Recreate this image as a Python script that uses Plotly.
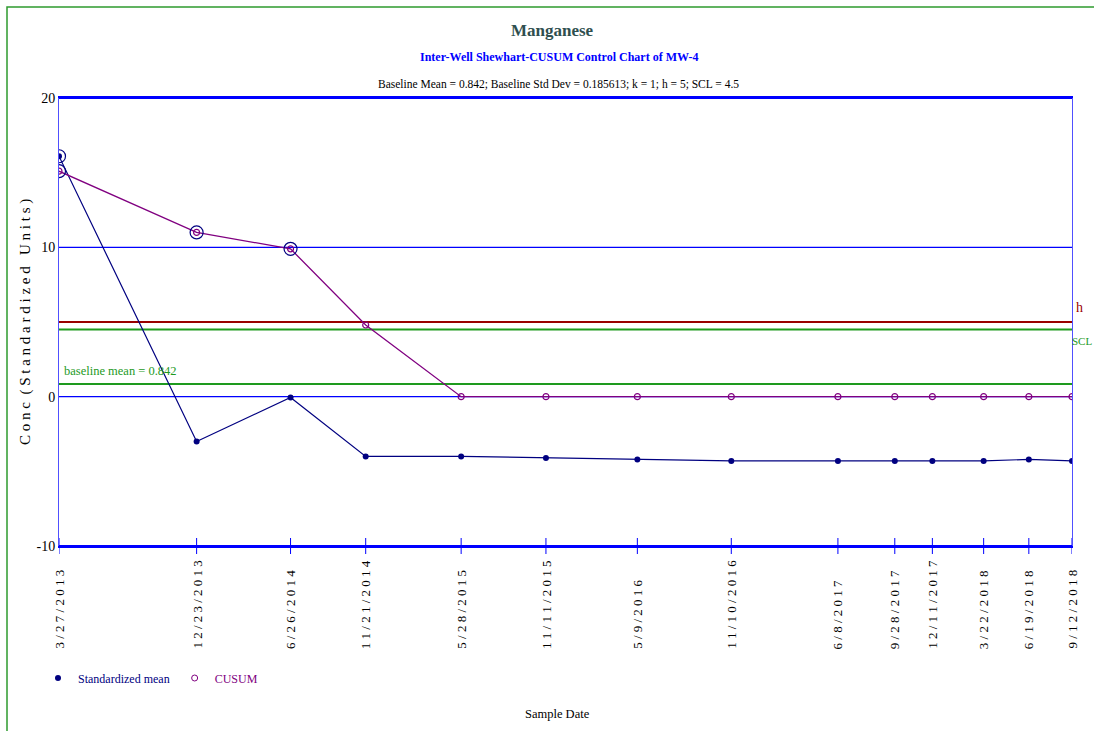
import plotly.graph_objects as go

# ---------------- data ----------------
sample_dates = ["2013-03-27", "2013-12-23", "2014-06-26", "2014-11-21", "2015-05-28",
                "2015-11-11", "2016-05-09", "2016-11-10", "2017-06-08", "2017-09-28",
                "2017-12-11", "2018-03-22", "2018-06-19", "2018-09-12"]
tick_labels = ["3/27/2013", "12/23/2013", "6/26/2014", "11/21/2014", "5/28/2015",
               "11/11/2015", "5/9/2016", "11/10/2016", "6/8/2017", "9/28/2017",
               "12/11/2017", "3/22/2018", "6/19/2018", "9/12/2018"]
standardized_mean = [16.1, -3.0, -0.05, -4.0, -4.0, -4.1, -4.2, -4.3, -4.3, -4.3,
                     -4.3, -4.3, -4.2, -4.3]
cusum = [15.1, 11.0, 9.9, 4.8, 0, 0, 0, 0, 0, 0, 0, 0, 0, 0]

baseline_mean = 0.842
h_value = 5
scl_value = 4.5
y_ticks = [-10, 0, 10, 20]
y_tick_text = ["-10", "0", "10", "20"]

FONT = "Liberation Serif, Times New Roman, serif"
NAVY = "#000080"
PURPLE = "#800080"
BLUE = "#0000FF"
GREEN = "#1E9A1E"
DARKRED = "#990000"

# plot-area pixel geometry
W, H = 1094, 731
L, R, T, B = 59, 22, 98, 185
PW, PH = W - L - R, H - T - B


def px_x(p):
    return (p - L) / PW


def px_y(p):
    return (H - B - p) / PH


fig = go.Figure()

# main series
fig.add_trace(go.Scatter(x=sample_dates, y=standardized_mean, mode="lines+markers",
                         line=dict(color=NAVY, width=1.2),
                         marker=dict(symbol="circle", size=6, color=NAVY),
                         showlegend=False, hoverinfo="x+y"))
fig.add_trace(go.Scatter(x=sample_dates, y=cusum, mode="lines+markers",
                         line=dict(color=PURPLE, width=1.3),
                         marker=dict(symbol="circle-open", size=6, color=PURPLE,
                                     line=dict(width=1.2)),
                         showlegend=False, hoverinfo="x+y"))

# out-of-control rings
ring_x, ring_y = [], []
for d, z in zip(sample_dates, standardized_mean):
    if z > scl_value:
        ring_x.append(d)
        ring_y.append(z)
for d, c in zip(sample_dates, cusum):
    if c > h_value:
        ring_x.append(d)
        ring_y.append(c)
fig.add_trace(go.Scatter(x=ring_x, y=ring_y, mode="markers",
                         marker=dict(symbol="circle-open", size=13, color=NAVY,
                                     line=dict(width=1.2)),
                         showlegend=False, hoverinfo="skip"))

# legend entries (markers only)
fig.add_trace(go.Scatter(x=[None], y=[None], mode="markers",
                         marker=dict(symbol="circle", size=6, color=NAVY),
                         name=f"<span style='color:{NAVY}'>Standardized mean</span>"))
fig.add_trace(go.Scatter(x=[None], y=[None], mode="markers",
                         marker=dict(symbol="circle-open", size=6, color=PURPLE),
                         name=f"<span style='color:{PURPLE}'>CUSUM</span>"))

shapes = []
# horizontal grid lines at the y ticks
for yv in y_ticks:
    shapes.append(dict(type="line", xref="paper", yref="y", x0=0, x1=1, y0=yv, y1=yv,
                       line=dict(color=BLUE, width=2 if yv in (y_ticks[0], y_ticks[-1]) else 1.2),
                       layer="below"))
# reference lines
for yv, col in [(h_value, DARKRED), (scl_value, GREEN), (baseline_mean, GREEN)]:
    shapes.append(dict(type="line", xref="paper", yref="y", x0=0, x1=1, y0=yv, y1=yv,
                       line=dict(color=col, width=2), layer="below"))
# tick marks crossing the bottom axis
for d in sample_dates:
    shapes.append(dict(type="line", xref="x", yref="paper", x0=d, x1=d,
                       y0=-8 / PH, y1=8 / PH, line=dict(color=BLUE, width=1)))
# green outer border
shapes.append(dict(type="rect", xref="paper", yref="paper",
                   x0=px_x(7), x1=px_x(1110), y0=px_y(745), y1=px_y(7),
                   line=dict(color="#2E9B2E", width=1.5)))


def ann(text, x, y, size, color, xanchor="center", yanchor="middle", **kw):
    d = dict(text=text, x=x, y=y, xref=kw.pop("xref", "paper"), yref=kw.pop("yref", "paper"),
             xanchor=xanchor, yanchor=yanchor, showarrow=False,
             font=dict(family=FONT, size=size, color=color))
    d.update(kw)
    return d


annotations = [
    ann("<b>Manganese</b>", px_x(552), px_y(30), 17, "#2F4F4F"),
    ann("<b>Inter-Well Shewhart-CUSUM Control Chart of MW-4</b>", px_x(559), px_y(57), 12, BLUE),
    ann(f"Baseline Mean = {baseline_mean}; Baseline Std Dev = 0.185613; k = 1; h = {h_value}; SCL = {scl_value}",
        px_x(558), px_y(84), 11.5, "black"),
    ann(f"baseline mean = {baseline_mean}", px_x(62), baseline_mean, 12.5, GREEN,
        xanchor="left", yanchor="bottom", yref="y", yshift=4),
    ann("h", px_x(1074), px_y(307), 14, DARKRED, xanchor="left"),
    ann("SCL", px_x(1093), px_y(341), 11, GREEN, xanchor="right", borderpad=0),
    ann("C o n c  ( S t a n d a r d i z e d   U n i t s )", px_x(25), px_y(322), 15, "black",
        textangle=-90),
    ann("Sample Date", px_x(557), px_y(714), 12.5, "black"),
]
for d, lab in zip(sample_dates, tick_labels):
    annotations.append(ann(" ".join(lab), d, px_y(651), 13, "black",
                           yanchor="bottom", xref="x", textangle=-90))

fig.update_layout(
    width=W, height=H,
    margin=dict(l=L, r=R, t=T, b=B),
    paper_bgcolor="white", plot_bgcolor="white",
    font=dict(family=FONT, size=13, color="black"),
    showlegend=True,
    legend=dict(orientation="h", x=px_x(38), y=px_y(678), xanchor="left", yanchor="middle",
                font=dict(family=FONT, size=12), bgcolor="rgba(0,0,0,0)",
                itemwidth=30, tracegroupgap=0),
    shapes=shapes,
    annotations=annotations,
    xaxis=dict(type="date", range=[sample_dates[0], sample_dates[-1]],
               showgrid=False, zeroline=False, showticklabels=False, ticks="",
               showline=True, mirror=True, linecolor=BLUE, linewidth=2),
    yaxis=dict(range=[-10, 20], tickmode="array", tickvals=y_ticks, ticktext=y_tick_text,
               showgrid=False, zeroline=False,
               showline=True, mirror=True, linecolor="#5050FF", linewidth=1,
               ticks="", tickfont=dict(family=FONT, size=14, color="black")),
)

fig.write_html("out.html", config={"displayModeBar": False},
               post_script="document.body.style.margin='0';")
